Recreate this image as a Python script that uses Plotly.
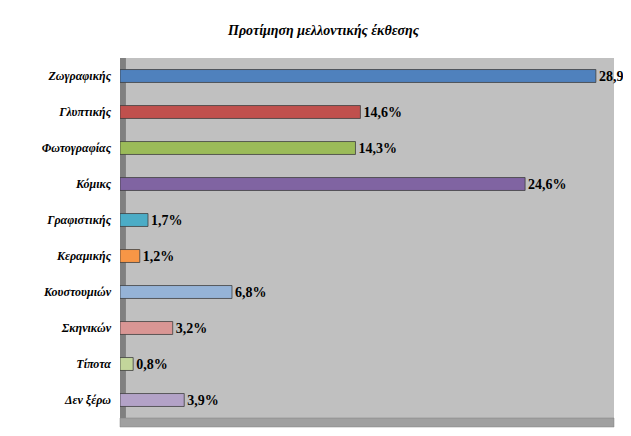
import plotly.graph_objects as go

categories = ["Ζωγραφικής","Γλυπτικής","Φωτογραφίας","Κόμικς","Γραφιστικής",
              "Κεραμικής","Κουστουμιών","Σκηνικών","Τίποτα","Δεν ξέρω"]
values = [28.9,14.6,14.3,24.6,1.7,1.2,6.8,3.2,0.8,3.9]
labels = ["28,9%","14,6%","14,3%","24,6%","1,7%","1,2%","6,8%","3,2%","0,8%","3,9%"]
colors = ["#4F81BD","#C0504D","#9BBB59","#8064A2","#4BACC6",
          "#F79646","#95B3D7","#D99694","#C3D69B","#B3A2C7"]

fig = go.Figure(go.Bar(
    y=categories, x=values, orientation="h",
    marker=dict(color=colors, line=dict(color="#404040", width=0.8)),
    text=labels, textposition="outside", cliponaxis=False, constraintext="none",
    texttemplate="<b>%{text}</b>",
    textfont=dict(family="Liberation Serif", size=14, color="black"),
))
fig.update_layout(
    width=631, height=436,
    margin=dict(l=112, r=25, t=50, b=26),
    paper_bgcolor="white", plot_bgcolor="#C0C0C0",
    title=dict(text="<b><i>Προτίμηση μελλοντικής έκθεσης</i></b>", x=0.5, y=0.96,
               xanchor="center", font=dict(family="Liberation Serif", size=14, color="black")),
    bargap=0.64, showlegend=False,
    xaxis=dict(range=[0,30], visible=False, showgrid=False),
    yaxis=dict(autorange="reversed", showgrid=False, ticks="", ticklen=0,
               tickfont=dict(family="Liberation Serif", size=12, color="black"),
               tickprefix="<b><i>", ticksuffix="</i></b>", ticklabelstandoff=8),
    shapes=[
        dict(type="rect", xref="paper", yref="paper", x0=0, x1=0.012, y0=0, y1=1,
             fillcolor="#808080", line=dict(width=0), layer="below"),
        dict(type="rect", xref="paper", yref="paper", x0=0, x1=1, y0=-0.025, y1=0,
             fillcolor="#A0A0A0", line=dict(width=0.5, color="#808080"), layer="below"),
    ],
)
fig.write_html("out.html")
